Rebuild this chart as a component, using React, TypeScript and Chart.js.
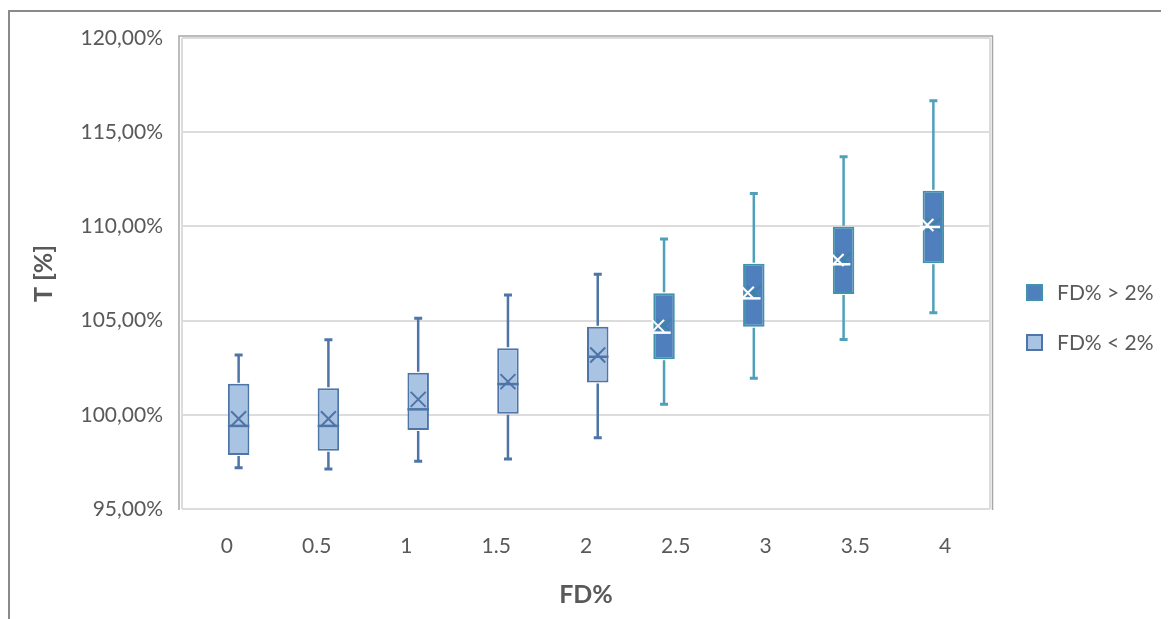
import React, { useEffect, useRef } from 'react';
import { Chart, registerables } from 'chart.js';

Chart.register(...registerables);

// FD% categories and the box statistics of T [%] for each of them
const categories = ['0', '0.5', '1', '1.5', '2', '2.5', '3', '3.5', '4'];
const whiskerLow = [97.19, 97.12, 97.53, 97.65, 98.78, 100.56, 101.94, 104.0, 105.42];
const quartile1 = [97.87, 98.09, 99.19, 100.06, 101.71, 102.95, 104.68, 106.41, 108.04];
const medians = [99.41, 99.41, 100.29, 101.63, 103.08, 104.36, 106.18, 107.99, 109.97];
const means = [99.79, 99.79, 100.82, 101.76, 103.17, 104.72, 106.48, 108.22, 110.07];
const quartile3 = [101.65, 101.41, 102.23, 103.53, 104.68, 106.45, 108.02, 109.98, 111.89];
const whiskerHigh = [103.17, 103.99, 105.13, 106.36, 107.46, 109.33, 111.75, 113.7, 116.67];

// which categories belong to the "FD% > 2%" group
const aboveLimit = [false, false, false, false, false, true, true, true, true];

const seriesHigh = 'FD% > 2%';
const seriesLow = 'FD% < 2%';

const yMin = 95;
const yMax = 120;
const yStep = 5;

const TEXT = '#595959';
const FONT = 'Lato';

const styles = {
  high: { fill: '#4f7fbc', border: '#3f93ab', whisker: '#4fa0b8', median: '#ffffff', cross: '#3b84a6' },
  low: { fill: '#a9c3e3', border: '#4e74a8', whisker: '#4e74a8', median: '#4e74a8', cross: '#4e74a8' },
};

const boxRange = (i: number) => [quartile1[i], quartile3[i]];

const highData = categories.map((_, i) => (aboveLimit[i] ? boxRange(i) : null));
const lowData = categories.map((_, i) => (aboveLimit[i] ? null : boxRange(i)));

// whiskers, medians and mean markers on top of the floating bars
const boxPlotPlugin = {
  id: 'boxPlotExtras',
  afterDatasetsDraw(chart: any) {
    const { ctx } = chart;
    const y = chart.scales.y;
    chart.data.datasets.forEach((ds: any, di: number) => {
      const meta = chart.getDatasetMeta(di);
      const st = ds.boxStyle;
      meta.data.forEach((bar: any, i: number) => {
        if (ds.data[i] == null) return;
        const cx = bar.x;
        const half = bar.width / 2;
        const pMin = y.getPixelForValue(whiskerLow[i]);
        const pMax = y.getPixelForValue(whiskerHigh[i]);
        const pQ1 = y.getPixelForValue(quartile1[i]);
        const pQ3 = y.getPixelForValue(quartile3[i]);
        const pMed = y.getPixelForValue(medians[i]);
        const pMean = y.getPixelForValue(means[i]);
        ctx.save();
        ctx.lineCap = 'butt';
        // whiskers
        ctx.strokeStyle = st.whisker;
        ctx.lineWidth = 2.5;
        ctx.beginPath();
        ctx.moveTo(cx, pQ3 - 1);
        ctx.lineTo(cx, pMax);
        ctx.moveTo(cx, pQ1 + 1);
        ctx.lineTo(cx, pMin);
        ctx.stroke();
        // caps
        ctx.lineWidth = 3;
        ctx.beginPath();
        ctx.moveTo(cx - 4, pMax);
        ctx.lineTo(cx + 4, pMax);
        ctx.moveTo(cx - 4, pMin);
        ctx.lineTo(cx + 4, pMin);
        ctx.stroke();

        const drawCross = (x0: number, r: number, color: string) => {
          ctx.strokeStyle = color;
          ctx.lineWidth = 2;
          ctx.beginPath();
          ctx.moveTo(x0 - r, pMean - r);
          ctx.lineTo(x0 + r, pMean + r);
          ctx.moveTo(x0 + r, pMean - r);
          ctx.lineTo(x0 - r, pMean + r);
          ctx.stroke();
        };

        if (ds.label === seriesHigh) {
          drawCross(cx, 7, st.cross);
          ctx.strokeStyle = st.median;
          ctx.lineWidth = 2.5;
          ctx.beginPath();
          ctx.moveTo(cx - half - 3, pMed);
          ctx.lineTo(cx + half - 4, pMed);
          ctx.stroke();
          drawCross(cx - 6, 6, '#ffffff');
        } else {
          ctx.strokeStyle = st.median;
          ctx.lineWidth = 2.5;
          ctx.beginPath();
          ctx.moveTo(cx - half, pMed);
          ctx.lineTo(cx + half, pMed);
          ctx.stroke();
          drawCross(cx, 7.5, st.cross);
        }
        ctx.restore();
      });
    });
  },
};

// plot-area frame
const framePlugin = {
  id: 'plotFrame',
  beforeDatasetsDraw(chart: any) {
    const { ctx, chartArea } = chart;
    const { left, right, top, bottom } = chartArea;
    ctx.save();
    ctx.strokeStyle = '#dcdcdc';
    ctx.lineWidth = 2;
    ctx.beginPath();
    ctx.moveTo(left, top);
    ctx.lineTo(left, bottom);
    ctx.moveTo(right, top);
    ctx.lineTo(right, bottom);
    ctx.stroke();
    ctx.strokeStyle = '#a6a6a6';
    ctx.lineWidth = 1.5;
    ctx.beginPath();
    ctx.moveTo(left - 3, bottom + 1);
    ctx.lineTo(left - 3, top - 2);
    ctx.lineTo(right + 2.5, top - 2);
    ctx.lineTo(right + 2.5, bottom + 1);
    ctx.stroke();
    ctx.restore();
  },
};

// legend on the right of the plot area
const legendPlugin = {
  id: 'sideLegend',
  afterDraw(chart: any) {
    const { ctx, chartArea } = chart;
    const x0 = chartArea.right + 36;
    const mid = chart.height / 2;
    ctx.save();
    chart.data.datasets.forEach((ds: any, i: number) => {
      const cy = mid - 23 + i * 50;
      ctx.fillStyle = ds.backgroundColor;
      ctx.fillRect(x0, cy - 8.5, 17, 17);
      ctx.strokeStyle = ds.borderColor;
      ctx.lineWidth = 2;
      ctx.strokeRect(x0 + 1, cy - 7.5, 15, 15);
      ctx.fillStyle = TEXT;
      ctx.font = `21px ${FONT}`;
      ctx.textAlign = 'left';
      ctx.textBaseline = 'middle';
      ctx.fillText(ds.label, x0 + 31, cy + 1);
    });
    ctx.restore();
  },
};

export default function App() {
  const canvasRef = useRef<HTMLCanvasElement | null>(null);

  useEffect(() => {
    if (!canvasRef.current) return;
    const chart = new Chart(canvasRef.current, {
      type: 'bar',
      data: {
        labels: categories,
        datasets: [
          {
            label: seriesHigh,
            data: highData as any,
            backgroundColor: styles.high.fill,
            borderColor: styles.high.border,
            borderWidth: 2,
            borderSkipped: false,
            boxStyle: styles.high,
          } as any,
          {
            label: seriesLow,
            data: lowData as any,
            backgroundColor: styles.low.fill,
            borderColor: styles.low.border,
            borderWidth: 2,
            borderSkipped: false,
            boxStyle: styles.low,
          } as any,
        ],
      },
      options: {
        animation: false,
        responsive: false,
        events: [],
        categoryPercentage: 0.523,
        barPercentage: 0.915,
        layout: { padding: { top: 26, right: 179, left: 0, bottom: 0 } },
        plugins: {
          legend: { display: false },
          tooltip: { enabled: false },
        },
        scales: {
          x: {
            grid: { display: false },
            border: { display: false },
            ticks: { color: TEXT, font: { family: FONT, size: 21 }, padding: 17 },
            title: {
              display: true,
              text: 'FD%',
              color: TEXT,
              font: { family: FONT, size: 25, weight: 'bold' },
              padding: { top: 0, bottom: 9 },
            },
            afterFit(scale: any) {
              scale.height = 110;
              scale.paddingLeft = 0;
              scale.paddingRight = 0;
            },
          },
          y: {
            min: yMin,
            max: yMax,
            border: { display: false },
            grid: { color: '#dcdcdc', lineWidth: 2, drawTicks: false },
            ticks: {
              stepSize: yStep,
              color: TEXT,
              font: { family: FONT, size: 21 },
              padding: 19,
              callback: (v: any) => Number(v).toFixed(2).replace('.', ',') + '%',
            },
            title: {
              display: true,
              text: 'T [%]',
              color: TEXT,
              font: { family: FONT, size: 25, weight: 'bold' },
              padding: { top: 19, bottom: 0 },
            },
            afterFit(scale: any) {
              scale.width = 172;
              scale.paddingTop = 0;
              scale.paddingBottom = 0;
            },
          },
        },
      } as any,
      plugins: [framePlugin, boxPlotPlugin, legendPlugin],
    });
    return () => chart.destroy();
  }, []);

  return (
    <div style={{ paddingTop: 2 }}>
      <div
        style={{
          borderTop: '2px solid #8a8a8a',
          borderLeft: '2px solid #8a8a8a',
          width: 1159,
          height: 607,
          overflow: 'hidden',
        }}
      >
        <canvas ref={canvasRef} width={1159} height={607} style={{ display: 'block' }} />
      </div>
    </div>
  );
}
